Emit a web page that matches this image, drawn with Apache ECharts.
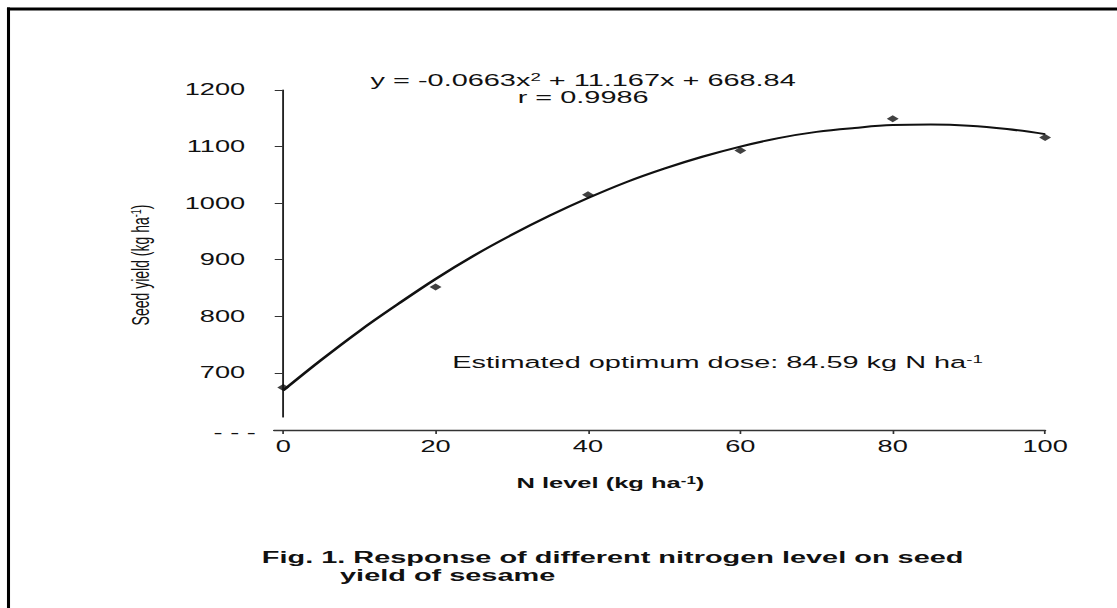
<!DOCTYPE html>
<html>
<head>
<meta charset="utf-8">
<script src="https://cdn.jsdelivr.net/npm/echarts@6/dist/echarts.min.js"></script>
<style>
  html, body { margin: 0; padding: 0; background: #fff; overflow: hidden; }
  #stage { width: 1117px; height: 608px; overflow: hidden; position: relative; }
  /* the scanned figure is stretched sideways, so the whole chart is too */
  #chart { width: 657px; height: 608px; transform: scaleX(1.7002); transform-origin: 0 0; }
</style>
</head>
<body>
<div id="stage"><div id="chart"></div></div>
<script>
// observed seed yield at each N level
const nLevels = [0, 20, 40, 60, 80, 100];
const seedYield = [674, 852, 1015, 1093, 1149, 1116];

// fitted curve, every 5 kg
const fitLevels = [0, 5, 10, 15, 20, 25, 30, 35, 40, 45, 50, 55, 60, 65, 70, 75, 80, 85, 90, 95, 100];
const fitYield = [669, 723, 774, 821, 866, 907, 944, 978, 1009, 1037, 1061, 1082, 1100, 1115, 1126, 1133, 1138, 1139, 1137, 1131, 1122];

const xTicks = [0, 20, 40, 60, 80, 100];
const yTicks = [700, 800, 900, 1000, 1100, 1200];

const ink = '#111';
const face = '"Liberation Sans", Arial, sans-serif';

const chart = echarts.init(document.getElementById('chart'), null, { renderer: 'svg' });

const sup = { fontSize: 11, fontFamily: face, verticalAlign: 'top', fill: ink };
const supBold = { fontSize: 10, fontFamily: face, fontWeight: 'bold', verticalAlign: 'top', fill: ink };

chart.setOption({
    animation: false,
    backgroundColor: '#fff',
    grid: { left: 161.2, right: 42.3, top: 90, bottom: 191 },
    xAxis: {
        type: 'value',
        min: -1.2,
        max: 100,
        offset: 13,
        splitLine: { show: false },
        axisLine: { onZero: false, lineStyle: { color: '#333', width: 1.4 } },
        axisTick: { customValues: xTicks, length: 4, lineStyle: { color: '#333', width: 1 } },
        axisLabel: { customValues: xTicks, margin: 9, color: ink, fontSize: 16, fontFamily: face }
    },
    yAxis: {
        type: 'value',
        min: 622,
        max: 1200,
        splitLine: { show: false },
        axisLine: { onZero: true, lineStyle: { color: '#222', width: 1.1 } },
        axisTick: { customValues: yTicks, length: 5, lineStyle: { color: '#333', width: 1 } },
        axisLabel: {
            customValues: yTicks, margin: 17, color: ink, fontSize: 16, fontFamily: face,
            formatter: v => String(v)
        }
    },
    series: [
        {
            type: 'line',
            data: fitLevels.map((x, i) => [x, fitYield[i]]),
            smooth: 0.4,
            showSymbol: false,
            lineStyle: { color: ink, width: 2 },
            z: 2
        },
        {
            type: 'scatter',
            data: nLevels.map((x, i) => [x, seedYield[i]]),
            symbol: 'diamond',
            symbolSize: 7,
            itemStyle: { color: ink },
            z: 3
        }
    ],
    graphic: [
        // frame round the figure (bottom edge is cut off)
        { type: 'line', shape: { x1: 5, y1: 7.5, x2: 5, y2: 700 }, style: { stroke: '#000', lineWidth: 1.8 } },
        { type: 'line', shape: { x1: 4.1, y1: 9, x2: 700, y2: 9 }, style: { stroke: '#000', lineWidth: 3 } },
        {
            type: 'text', x: 343, y: 80,
            style: {
                text: 'y = -0.0663x{s|2} + 11.167x + 668.84',
                fontSize: 17, fontFamily: face, fill: ink, align: 'center', verticalAlign: 'middle',
                rich: { s: sup }
            }
        },
        {
            type: 'text', x: 343, y: 97,
            style: { text: 'r = 0.9986', fontSize: 17, fontFamily: face, fill: ink, align: 'center', verticalAlign: 'middle' }
        },
        {
            type: 'text', x: 266, y: 362,
            style: {
                text: 'Estimated optimum dose: 84.59 kg N ha{s|-1}',
                fontSize: 17, fontFamily: face, fill: ink, align: 'left', verticalAlign: 'middle',
                rich: { s: sup }
            }
        },
        {
            type: 'text', x: 82.4, y: 265, rotation: Math.PI / 2,
            style: {
                text: 'Seed yield (kg ha{s|-1})',
                fontSize: 14, fontFamily: face, fill: ink, align: 'center', verticalAlign: 'middle',
                rich: { s: { fontSize: 9, fontFamily: face, verticalAlign: 'top', fill: ink } }
            }
        },
        {
            type: 'text', x: 150.5, y: 433,
            style: { text: '- - -', fontSize: 16, fontFamily: face, fill: ink, align: 'right', verticalAlign: 'middle' }
        },
        {
            type: 'text', x: 359, y: 483,
            style: {
                text: 'N level (kg ha{s|-1})',
                fontSize: 15, fontFamily: face, fontWeight: 'bold', fill: ink, align: 'center', verticalAlign: 'middle',
                rich: { s: supBold }
            }
        },
        {
            type: 'text', x: 154, y: 557,
            style: {
                text: 'Fig. 1. Response of different nitrogen level on seed',
                fontSize: 17, fontFamily: face, fontWeight: 'bold', fill: ink, align: 'left', verticalAlign: 'middle'
            }
        },
        {
            type: 'text', x: 200, y: 575,
            style: {
                text: 'yield of sesame',
                fontSize: 17, fontFamily: face, fontWeight: 'bold', fill: ink, align: 'left', verticalAlign: 'middle'
            }
        }
    ]
});
</script>
</body>
</html>
